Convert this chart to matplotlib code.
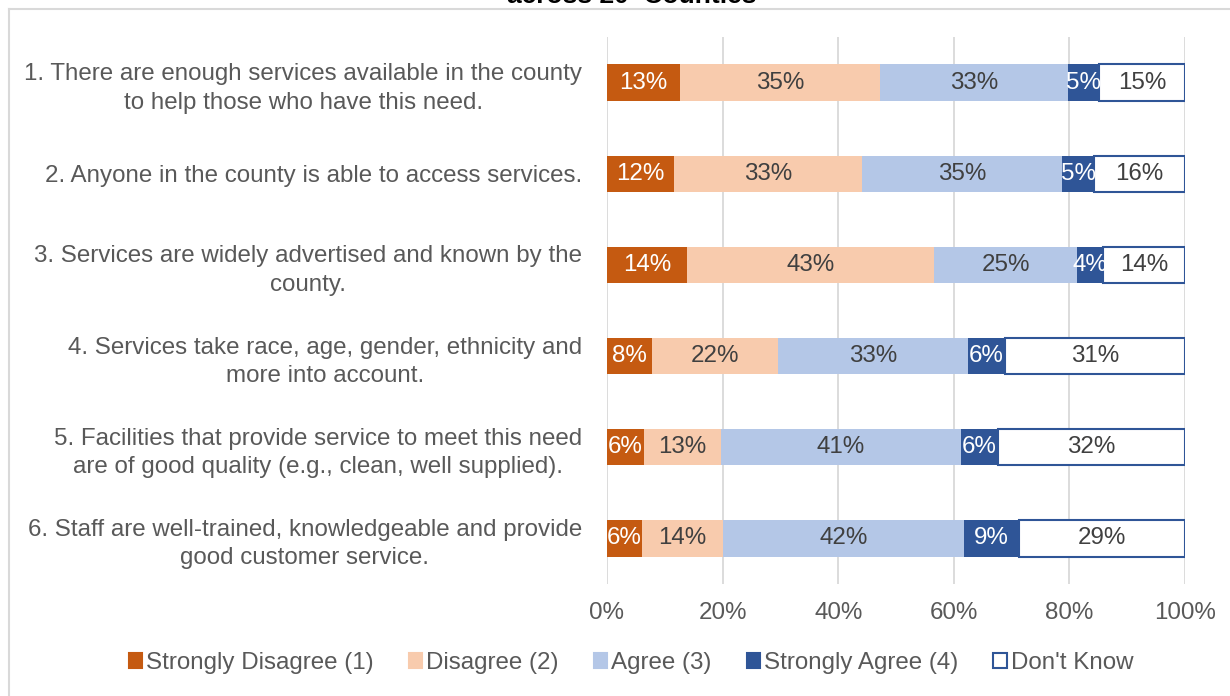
import matplotlib.pyplot as plt
from matplotlib.patches import Patch
from matplotlib.lines import Line2D
from matplotlib.ticker import FuncFormatter

plt.rcParams['font.family'] = ['Liberation Sans', 'DejaVu Sans']

questions = [
    "1. There are enough services available in the county\nto help those who have this need.",
    "2. Anyone in the county is able to access services.",
    "3. Services are widely advertised and known by the\ncounty.",
    "4. Services take race, age, gender, ethnicity and\nmore into account.",
    "5. Facilities that provide service to meet this need\nare of good quality (e.g., clean, well supplied).",
    "6. Staff are well-trained, knowledgeable and provide\ngood customer service.",
]
responses = ["Strongly Disagree (1)", "Disagree (2)", "Agree (3)", "Strongly Agree (4)", "Don't Know"]

# percent of respondents per question
strongly_disagree = [12.6, 11.6, 13.8, 7.8, 6.4, 6.0]
disagree = [34.6, 32.6, 42.8, 21.8, 13.4, 14.0]
agree = [32.6, 34.6, 24.8, 32.8, 41.4, 41.8]
strongly_agree = [5.4, 5.4, 4.4, 6.4, 6.4, 9.4]
dont_know = [14.8, 15.8, 14.2, 31.2, 32.4, 28.8]

series = [strongly_disagree, disagree, agree, strongly_agree, dont_know]
fills = ['#C55A11', '#F8CBAD', '#B4C7E7', '#2F5597', 'white']
edges = ['none', 'none', 'none', 'none', '#2F5597']
text_colors = ['white', '#404040', '#404040', 'white', '#404040']

fig = plt.figure(figsize=(12.3, 6.96), dpi=100)
ax = fig.add_axes([607 / 1230, 1 - 584 / 696, (1185 - 607) / 1230, (584 - 37) / 696])

fs = 17.4
y = list(range(len(questions)))
left = [0] * len(questions)
for vals, fc, ec, tc in zip(series, fills, edges, text_colors):
    bars = ax.barh(y, vals, left=left, height=0.4, color=fc, edgecolor=ec,
                   linewidth=1.5, zorder=3)
    for b, v in zip(bars, vals):
        ax.text(b.get_x() + b.get_width() / 2, b.get_y() + b.get_height() / 2,
                f"{v:.0f}%", ha='center', va='center', color=tc, fontsize=fs, zorder=4)
    left = [l + v for l, v in zip(left, vals)]

ax.set_xlim(0, 100)
ax.set_ylim(len(questions) - 0.5, -0.5)
ax.set_xticks(range(0, 101, 20))
ax.xaxis.set_major_formatter(FuncFormatter(lambda v, p: f"{v:.0f}%"))
ax.set_yticks(y)
ax.set_yticklabels(questions, multialignment='center', linespacing=1.38)
ax.tick_params(axis='both', length=0, labelsize=fs, colors='#595959')
ax.tick_params(axis='y', pad=18)
ax.tick_params(axis='x', pad=13)
ax.grid(axis='x', color='#D9D9D9', linewidth=1.3, zorder=0)
for s in ax.spines.values():
    s.set_visible(False)

handles = [Patch(facecolor=fc, edgecolor=(ec if ec != 'none' else fc), linewidth=1.5)
           for fc, ec in zip(fills, edges)]
fig.legend(handles, responses, loc='center', bbox_to_anchor=(631 / 1230, 1 - 663 / 696),
           ncol=5, frameon=False, fontsize=fs, labelcolor='#595959',
           handlelength=0.55, handleheight=0.55, handletextpad=0.17, columnspacing=1.45)

# chart title, only its last line sits inside the canvas
fig.text(632 / 1230, 1 - 3 / 696, "across 20  Counties", ha='center', va='baseline',
         fontsize=19, fontweight='bold', color='black')

# outer chart border
fig.add_artist(Line2D([8.5 / 1230, 1], [1 - 8.5 / 696, 1 - 8.5 / 696], color='#D9D9D9', linewidth=1.5))
fig.add_artist(Line2D([8.5 / 1230, 8.5 / 1230], [0, 1 - 8.5 / 696], color='#D9D9D9', linewidth=1.5))

fig.savefig('out.png', dpi=100)
